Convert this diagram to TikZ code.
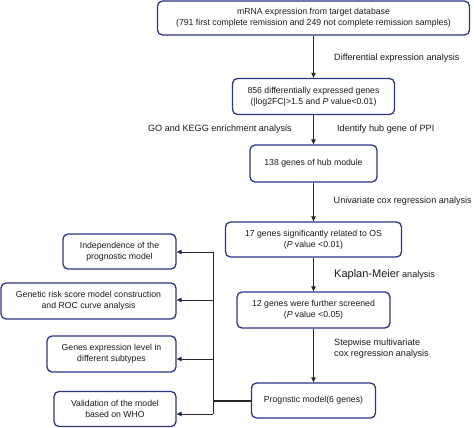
\documentclass[tikz,border=0pt]{standalone}
\usepackage{fontspec}
\setmainfont{Liberation Sans}
\usetikzlibrary{arrows.meta}
\definecolor{boxblue}{HTML}{2B3486}
\definecolor{linegray}{HTML}{262626}
\definecolor{txt}{HTML}{1A1A1A}
\tikzset{
  box/.style={draw=boxblue, line width=1.3pt, rounded corners=5pt, align=center,
    inner sep=0pt, font=\fontsize{8.7}{10.6}\selectfont, text=txt},
  lbl/.style={font=\fontsize{9.1}{10.6}\selectfont, text=txt, inner sep=0pt, align=left},
  conn/.style={draw=linegray, line width=1pt, -{Triangle[length=5pt,width=4.5pt]}},
  spine/.style={draw=linegray, line width=1pt},
}
\begin{document}
\begin{tikzpicture}[x=1pt,y=-1pt]
\useasboundingbox (0,0) rectangle (474,428);
% main column
\node[box, minimum width=312pt, minimum height=34pt] (top) at (313.5,18)
  {mRNA expression from  target database\\(791 first complete remission and 249 not complete remission samples)};
\node[box, minimum width=162pt, minimum height=36pt] (b2) at (313.5,96.5)
  {856 differentially expressed genes\\(|log2FC|>1.5 and \textit{P} value<0.01)};
\node[box, minimum width=127pt, minimum height=37pt] (b3) at (313.5,163.5)
  {138 genes of hub module};
\node[box, minimum width=176pt, minimum height=35pt] (b4) at (313.5,239.5)
  {17 genes significantly related to OS\\(\textit{P} value <0.01)};
\node[box, minimum width=153pt, minimum height=36pt] (b5) at (313.5,310)
  {12 genes were further screened\\(\textit{P} value <0.05)};
\node[box, minimum width=124pt, minimum height=35pt] (b6) at (313.5,400.5)
  {Prognstic model(6 genes)};
% left column
\node[box, minimum width=113pt, minimum height=35pt] (l1) at (119.5,251.5)
  {Independence of the\\prognostic model};
\node[box, minimum width=175pt, minimum height=36pt] (l2) at (88.5,301)
  {Genetic risk score model construction\\and ROC curve analysis};
\node[box, minimum width=129pt, minimum height=36pt] (l3) at (111.5,354)
  {Genes expression level in\\different subtypes};
\node[box, minimum width=122pt, minimum height=35pt] (l4) at (115,409)
  {Validation of the model\\based on WHO};
% main arrows
\draw[conn] (top) -- (b2);
\draw[conn] (b2) -- (b3);
\draw[conn] (b3) -- (b4);
\draw[conn] (b4) -- (b5);
\draw[conn] (b5) -- (b6);
% labels
\node[lbl, anchor=west] (t1) at (334,58) {Differential expression analysis};
\node[lbl, anchor=east] (t2) at (292,129) {GO and KEGG enrichment analysis};
\node[lbl, anchor=west] (t3) at (337,129) {Identify hub gene of PPI};
\node[lbl, anchor=west] (t4) at (333.5,201) {Univariate  cox regression analysis};
\node[lbl, anchor=west] (t5) at (334,275) {{\fontsize{11}{13}\selectfont Kaplan-Meier} analysis};
\node[lbl, anchor=west, font=\fontsize{9.1}{11}\selectfont] (t6) at (334,348.5) {Stepwise multivariate\\cox regression analysis};
% spine
\coordinate (j1) at (213,252);
\coordinate (j2) at (213,300);
\coordinate (j3) at (213,359);
\coordinate (j4) at (213,414);
\coordinate (jm) at (213,400.5);
\draw[spine] (j1) -- (j4);
\draw[draw=linegray, line width=2pt] (jm) -- (b6.west);
\draw[conn] (j1) -- (l1.east |- j1);
\draw[conn] (j2) -- (l2.east |- j2);
\draw[conn] (j3) -- (l3.east |- j3);
\draw[conn] (j4) -- (l4.east |- j4);
\end{tikzpicture}
\end{document}
